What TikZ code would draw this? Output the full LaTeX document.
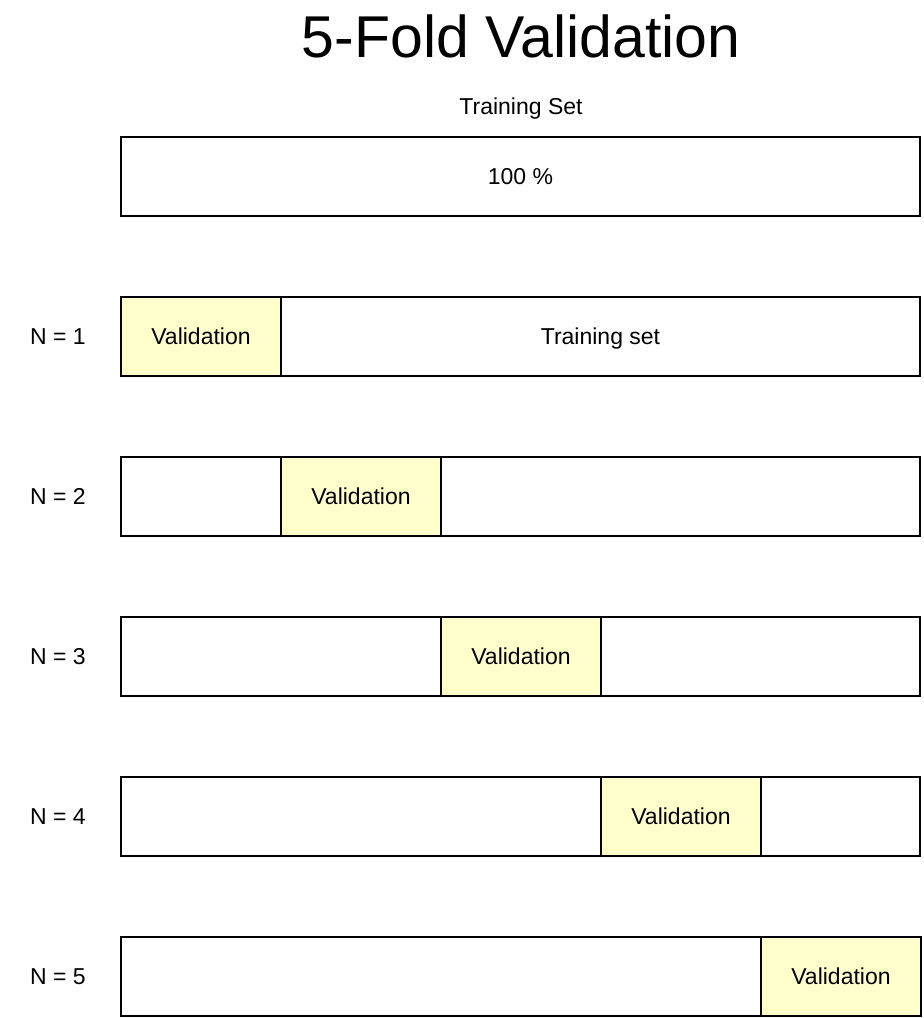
\documentclass[tikz,border=0pt]{standalone}
\usepackage{fontspec}
\setmainfont{Liberation Sans}
\definecolor{valfill}{HTML}{FFFFCC}
\begin{document}
\begin{tikzpicture}[x=1pt,y=-1pt,line width=2pt,
    txt/.style={font=\fontsize{23}{28}\selectfont,text height=16.5pt,text depth=0pt,inner sep=0pt},
    bar/.style={draw,rectangle,txt,minimum width=799pt,minimum height=79pt},
    valbox/.style={draw,rectangle,txt,fill=valfill,minimum width=160pt,minimum height=79pt}]
        \useasboundingbox (0,0) rectangle (924,1018);
        \node[txt,font=\fontsize{59}{70}\selectfont,text height=42pt] (title) at (521,36) {5-Fold Validation};
        \node[txt] (setlbl) at (521,106.5) {Training Set};
        \node[bar] (full) at (520.5,176.5) {100 \%};
        % one bar per fold, validation part moves right
        \foreach \i in {1,...,5}{
            \pgfmathsetmacro{\yc}{336.5+160*(\i-1)}
            \pgfmathsetmacro{\xv}{201+160*(\i-1)}
            \node[bar] (fold\i) at (520.5,\yc) {};
            \node[valbox] (val\i) at (\xv,\yc) {Validation};
            \node[txt] (lbl\i) at (58,\yc) {N = \i};
        }
        \node[txt] (train1) at (600.5,336.5) {Training set};
\end{tikzpicture}
\end{document}
